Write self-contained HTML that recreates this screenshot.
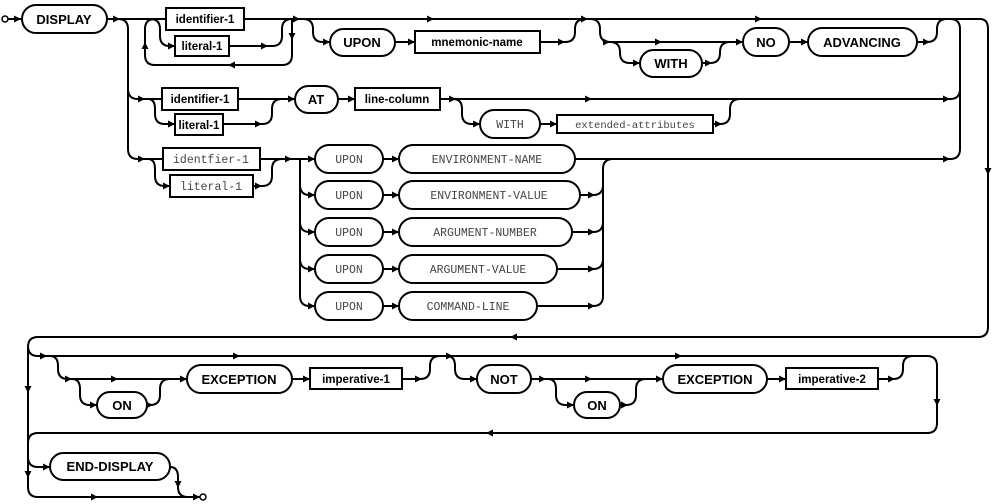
<!DOCTYPE html>
<html><head><meta charset="utf-8"><style>
html,body{margin:0;padding:0;background:#fff;}
svg{display:block;}
.l{fill:none;stroke:#000;stroke-width:2;}
.b{font-family:"Liberation Sans",sans-serif;font-weight:bold;font-size:13px;fill:#000;text-anchor:middle;}
.bs{font-family:"Liberation Sans",sans-serif;font-weight:bold;font-size:11.5px;fill:#000;text-anchor:middle;}
.m{font-family:"Liberation Mono",monospace;font-size:11.5px;fill:#444;text-anchor:middle;}
.ms{font-family:"Liberation Mono",monospace;font-size:10.5px;fill:#444;text-anchor:middle;}
.p{fill:#fff;stroke:#000;stroke-width:2;}
</style></head><body>
<svg width="995" height="504" viewBox="0 0 995 504" xmlns="http://www.w3.org/2000/svg">
<defs>
<polygon id="ar" points="-7,-3.5 0,0 -7,3.5"/>
<polygon id="al" points="7,-3.5 0,0 7,3.5"/>
<polygon id="ad" points="-3.5,-7 0,0 3.5,-7"/>
<polygon id="au" points="-3.5,7 0,0 3.5,7"/>
</defs>
<g class="l">
<!-- start -->
<path d="M8,19 H21"/>
<path d="M107,19 H300 M300,19 H980 Q988,19 988,29 V327 Q988,337 978,337 H38 Q28,337 28,347 V487 Q28,497 38,497 H188"/>
<!-- branch down x=128 -->
<path d="M118,19 Q128,19 128,29 V149 Q128,159 138,159 H163"/>
<path d="M128,89 Q128,99 138,99 H162"/>
<!-- loop group row1 -->
<path d="M150,19 Q160,19 160,29 V36 Q160,46 170,46 H175"/>
<path d="M229,46 H272 Q282,46 282,36 V29 Q282,19 292,19"/>
<path d="M292,19 V55 Q292,65 282,65 H155 Q145,65 145,55 V29 Q145,19 155,19"/>
<!-- UPON mnemonic -->
<path d="M303,19 Q313,19 313,29 V32 Q313,42 323,42 H330"/>
<path d="M395,42 H415 M540,42 H565 Q575,42 575,32 V29 Q575,19 585,19"/>
<!-- WITH NO ADVANCING -->
<path d="M590,19 Q600,19 600,29 V32 Q600,42 610,42 H743"/>
<path d="M610,42 Q620,42 620,52 V53 Q620,63 630,63 H640"/>
<path d="M702,63 H710 Q720,63 720,53 V52 Q720,42 730,42"/>
<path d="M789,42 H808 M917,42 H927 Q937,42 937,32 V29 Q937,19 947,19"/>
<!-- right vertical 960 -->
<path d="M950,19 Q960,19 960,29 V149 Q960,159 950,159"/>
<path d="M440,99 H950 Q960,99 960,89"/>
<!-- row2 -->
<path d="M148,99 Q155,99 155,109 V114 Q155,124 165,124 H175"/>
<path d="M223,124 H262 Q272,124 272,114 V109 Q272,99 282,99"/>
<path d="M238,99 H295 M338,99 H355"/>
<path d="M453,99 Q462,99 462,109 V114 Q462,124 472,124 H480"/>
<path d="M540,124 H557 M713,124 H720 Q730,124 730,114 V109 Q730,99 740,99"/>
<!-- row3 -->
<path d="M148,159 Q155,159 155,169 V176 Q155,186 165,186 H170"/>
<path d="M253,186 H262 Q272,186 272,176 V169 Q272,159 282,159"/>
<path d="M260,159 H315"/>
<path d="M300,159 V296 Q300,306 310,306 H315"/>
<path d="M300,185 Q300,195 310,195 H315 M300,222 Q300,232 310,232 H315 M300,259 Q300,269 310,269 H315"/>
<path d="M383,159 H399 M383,195 H399 M383,232 H399 M383,269 H399 M383,306 H399"/>
<path d="M575,159 H950"/>
<path d="M580,195 H593 Q603,195 603,185 M572,232 H593 Q603,232 603,222 M557,269 H593 Q603,269 603,259 M537,306 H593 Q603,306 603,296 V169 Q603,159 613,159"/>
<!-- bottom section -->
<path d="M28,346 Q28,356 38,356 H927 Q937,356 937,366 V423 Q937,433 927,433 H38 Q28,433 28,443"/>
<path d="M50,356 Q58,356 58,366 V369 Q58,379 68,379 H187"/>
<path d="M72,379 Q80,379 80,389 V395 Q80,405 90,405 H97"/>
<path d="M147,405 H150 Q160,405 160,395 V389 Q160,379 170,379"/>
<path d="M292,379 H310 M402,379 H420 Q430,379 430,369 V366 Q430,356 440,356"/>
<path d="M447,356 Q455,356 455,366 V369 Q455,379 465,379 H477"/>
<path d="M531,379 H663"/>
<path d="M548,379 Q556,379 556,389 V395 Q556,405 566,405 H574"/>
<path d="M620,405 H626 Q636,405 636,395 V389 Q636,379 646,379"/>
<path d="M767,379 H786 M878,379 H893 Q903,379 903,369 V366 Q903,356 913,356"/>
<path d="M28,457 Q28,467 38,467 H50"/>
<path d="M170,467 Q178,467 178,477 V487 Q178,497 188,497 H200"/>
</g>
<circle cx="5" cy="19" r="3" fill="#fff" stroke="#000" stroke-width="1.5"/>
<circle cx="203" cy="497" r="3" fill="#fff" stroke="#000" stroke-width="1.5"/>
<g>
<use href="#ar" x="21" y="19"/><use href="#ar" x="120" y="19"/>
<use href="#ar" x="175" y="46"/><use href="#ar" x="268" y="46"/>
<use href="#ad" x="292" y="40"/><use href="#al" x="228" y="65"/><use href="#au" x="145" y="42"/>
<use href="#ar" x="300" y="19"/><use href="#ar" x="434" y="19"/><use href="#ar" x="588" y="19"/><use href="#ar" x="762" y="19"/>
<use href="#ar" x="330" y="42"/><use href="#ar" x="415" y="42"/><use href="#ar" x="565" y="42"/>
<use href="#ar" x="610" y="42"/><use href="#ar" x="662" y="42"/><use href="#ar" x="640" y="63"/><use href="#ar" x="712" y="63"/>
<use href="#ar" x="743" y="42"/><use href="#ar" x="808" y="42"/><use href="#ar" x="930" y="42"/>
<use href="#ad" x="988" y="175"/>
<use href="#ar" x="145" y="99"/><use href="#ar" x="175" y="124"/><use href="#ar" x="262" y="124"/>
<use href="#ar" x="295" y="99"/><use href="#ar" x="355" y="99"/><use href="#ar" x="456" y="99"/><use href="#ar" x="592" y="99"/><use href="#ar" x="950" y="99"/>
<use href="#ar" x="480" y="124"/><use href="#ar" x="557" y="124"/><use href="#ar" x="722" y="124"/>
<use href="#ar" x="145" y="159"/><use href="#ar" x="170" y="186"/><use href="#ar" x="262" y="186"/><use href="#ar" x="292" y="159"/>
<use href="#ar" x="315" y="159"/><use href="#ar" x="315" y="195"/><use href="#ar" x="315" y="232"/><use href="#ar" x="315" y="269"/><use href="#ar" x="315" y="306"/>
<use href="#ar" x="399" y="159"/><use href="#ar" x="399" y="195"/><use href="#ar" x="399" y="232"/><use href="#ar" x="399" y="269"/><use href="#ar" x="399" y="306"/>
<use href="#ar" x="950" y="159"/>
<use href="#ar" x="595" y="195"/><use href="#ar" x="595" y="232"/><use href="#ar" x="595" y="269"/><use href="#ar" x="595" y="306"/>
<use href="#al" x="510" y="337"/><use href="#al" x="486" y="433"/>
<use href="#ad" x="28" y="393"/><use href="#ad" x="28" y="478"/><use href="#ad" x="937" y="406"/>
<use href="#ar" x="47" y="356"/><use href="#ar" x="240" y="356"/><use href="#ar" x="453" y="356"/><use href="#ar" x="682" y="356"/>
<use href="#ar" x="72" y="379"/><use href="#ar" x="118" y="379"/><use href="#ar" x="187" y="379"/>
<use href="#ar" x="97" y="405"/><use href="#ar" x="153" y="405"/>
<use href="#ar" x="310" y="379"/><use href="#ar" x="422" y="379"/>
<use href="#ar" x="477" y="379"/><use href="#ar" x="546" y="379"/><use href="#ar" x="592" y="379"/><use href="#ar" x="663" y="379"/>
<use href="#ar" x="574" y="405"/><use href="#ar" x="628" y="405"/>
<use href="#ar" x="786" y="379"/><use href="#ar" x="895" y="379"/>
<use href="#ar" x="50" y="467"/><use href="#ad" x="178" y="488"/><use href="#ar" x="98" y="497"/><use href="#ar" x="200" y="497"/>
</g>
<!-- nodes -->
<rect class="p" x="22" y="5" width="85" height="28" rx="14"/><text class="b" x="64" y="24">DISPLAY</text>
<rect class="p" x="166" y="8" width="78" height="22"/><text class="bs" x="205" y="23">identifier-1</text>
<rect class="p" x="175" y="36" width="54" height="20"/><text class="bs" x="202" y="50">literal-1</text>
<rect class="p" x="330" y="29" width="65" height="27" rx="13.5"/><text class="b" x="362" y="47">UPON</text>
<rect class="p" x="415" y="31" width="125" height="22"/><text class="bs" x="477" y="46">mnemonic-name</text>
<rect class="p" x="640" y="50" width="62" height="27" rx="13.5"/><text class="b" x="671" y="68">WITH</text>
<rect class="p" x="743" y="28" width="46" height="28" rx="14"/><text class="b" x="766" y="47">NO</text>
<rect class="p" x="808" y="28" width="109" height="28" rx="14"/><text class="b" x="862" y="47">ADVANCING</text>
<rect class="p" x="162" y="88" width="76" height="22"/><text class="bs" x="200" y="103">identifier-1</text>
<rect class="p" x="175" y="114" width="48" height="21"/><text class="bs" x="199" y="129">literal-1</text>
<rect class="p" x="295" y="86" width="43" height="27" rx="13.5"/><text class="b" x="316" y="104">AT</text>
<rect class="p" x="355" y="88" width="85" height="22"/><text class="bs" x="397" y="103">line-column</text>
<rect class="p" x="480" y="110" width="60" height="28" rx="14"/><text class="m" x="510" y="128">WITH</text>
<rect class="p" x="557" y="115" width="156" height="18"/><text class="ms" x="635" y="128">extended-attributes</text>
<rect class="p" x="163" y="148" width="97" height="22"/><text class="m" x="211" y="163">identfier-1</text>
<rect class="p" x="170" y="175" width="83" height="22"/><text class="m" x="211" y="190">literal-1</text>
<g>
<rect class="p" x="315" y="145" width="68" height="28" rx="14"/><text class="m" x="349" y="163">UPON</text>
<rect class="p" x="399" y="145" width="176" height="28" rx="14"/><text class="m" x="487" y="163">ENVIRONMENT-NAME</text>
<rect class="p" x="315" y="181" width="68" height="28" rx="14"/><text class="m" x="349" y="199">UPON</text>
<rect class="p" x="399" y="181" width="181" height="28" rx="14"/><text class="m" x="489" y="199">ENVIRONMENT-VALUE</text>
<rect class="p" x="315" y="218" width="68" height="28" rx="14"/><text class="m" x="349" y="236">UPON</text>
<rect class="p" x="399" y="218" width="173" height="28" rx="14"/><text class="m" x="485" y="236">ARGUMENT-NUMBER</text>
<rect class="p" x="315" y="255" width="68" height="28" rx="14"/><text class="m" x="349" y="273">UPON</text>
<rect class="p" x="399" y="255" width="158" height="28" rx="14"/><text class="m" x="478" y="273">ARGUMENT-VALUE</text>
<rect class="p" x="315" y="292" width="68" height="28" rx="14"/><text class="m" x="349" y="310">UPON</text>
<rect class="p" x="399" y="292" width="138" height="28" rx="14"/><text class="m" x="468" y="310">COMMAND-LINE</text>
</g>
<rect class="p" x="97" y="392" width="50" height="26" rx="13"/><text class="b" x="122" y="410">ON</text>
<rect class="p" x="187" y="365" width="105" height="28" rx="14"/><text class="b" x="239" y="384">EXCEPTION</text>
<rect class="p" x="310" y="368" width="92" height="21"/><text class="bs" x="356" y="383">imperative-1</text>
<rect class="p" x="477" y="365" width="54" height="28" rx="14"/><text class="b" x="504" y="384">NOT</text>
<rect class="p" x="574" y="392" width="46" height="26" rx="13"/><text class="b" x="597" y="410">ON</text>
<rect class="p" x="663" y="365" width="104" height="28" rx="14"/><text class="b" x="715" y="384">EXCEPTION</text>
<rect class="p" x="786" y="368" width="92" height="21"/><text class="bs" x="832" y="383">imperative-2</text>
<rect class="p" x="50" y="453" width="120" height="27" rx="13.5"/><text class="b" x="110" y="471">END-DISPLAY</text>
</svg>
</body></html>
